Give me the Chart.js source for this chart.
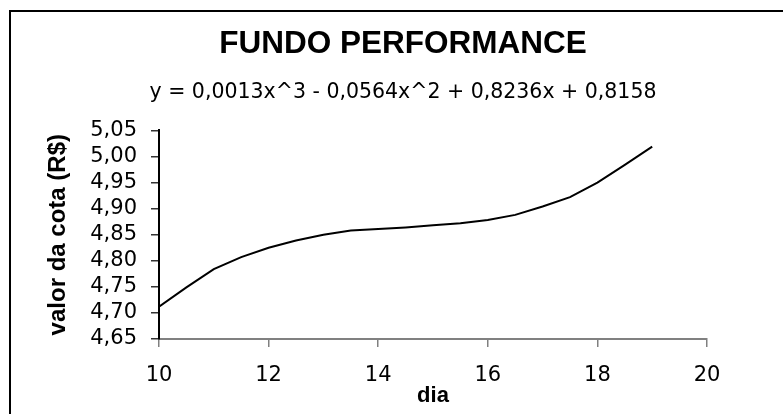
<!DOCTYPE html>
<html>
<head>
<meta charset="utf-8">
<script src="https://cdn.jsdelivr.net/npm/chart.js@4"></script>
<style>
  html, body { margin: 0; padding: 0; background: #fff; overflow: hidden; }
  #wrap { position: relative; width: 783px; height: 414px; overflow: hidden; }
  #frame { position: absolute; left: 9px; top: 10px; width: 800px; height: 420px; border: 2px solid #000; }
  #myChart { position: absolute; left: 0; top: 0; }
</style>
</head>
<body>
<div id="wrap">
  <div id="frame"></div>
  <canvas id="myChart" width="806" height="414"></canvas>
</div>
<script>
// dia (x) and valor da cota (y)
const dias = [10, 10.5, 11, 11.5, 12, 12.5, 13, 13.5, 14, 14.5, 15, 15.5, 16, 16.5, 17, 17.5, 18, 18.5, 19];
const cotas = [4.712, 4.749, 4.784, 4.807, 4.825, 4.839, 4.850, 4.858, 4.861, 4.864, 4.868, 4.872, 4.878, 4.888, 4.904, 4.922, 4.950, 4.984, 5.019];

const xTicks = [10, 12, 14, 16, 18, 20];
const yTicks = [4.65, 4.70, 4.75, 4.80, 4.85, 4.90, 4.95, 5.00, 5.05];

const titleText = 'FUNDO PERFORMANCE';
const equationText = 'y = 0,0013x^3 - 0,0564x^2 + 0,8236x + 0,8158';

const ctx = document.getElementById('myChart').getContext('2d');

const points = dias.map((d, i) => ({ x: d, y: cotas[i] }));

const myChart = new Chart(ctx, {
    type: 'line',
    data: {
        datasets: [{
            data: points,
            borderColor: '#000',
            borderWidth: 2,
            pointRadius: 0,
            tension: 0,
            fill: false,
            yAxisID: 'y'
        }]
    },
    options: {
        responsive: false,
        animation: false,
        layout: { padding: 0 },
        plugins: {
            legend: { display: false },
            tooltip: { enabled: false },
            title: {
                display: true,
                text: titleText,
                color: '#000',
                font: { family: '"Liberation Sans", Arial, sans-serif', size: 31.5, weight: 'bold', lineHeight: 1.2 },
                padding: { top: 25, bottom: 0 }
            },
            subtitle: {
                display: true,
                text: equationText,
                color: '#000',
                font: { family: '"DejaVu Sans", sans-serif', size: 20.5, lineHeight: 1.2 },
                padding: { top: 18, bottom: 25 }
            }
        },
        scales: {
            x: {
                type: 'linear',
                min: xTicks[0],
                max: xTicks[xTicks.length - 1],
                afterBuildTicks: (scale) => { scale.ticks = xTicks.map(v => ({ value: v })); },
                afterFit: (scale) => { scale.height = 75; },
                grid: { drawOnChartArea: false, drawTicks: true, tickLength: 8, color: '#808080', lineWidth: 1.5 },
                border: { color: '#808080', width: 2 },
                ticks: {
                    color: '#000',
                    padding: 16,
                    maxRotation: 0,
                    autoSkip: false,
                    font: { family: '"DejaVu Sans", sans-serif', size: 21 }
                },
                title: {
                    display: true,
                    text: 'dia',
                    color: '#000',
                    font: { family: '"Liberation Sans", Arial, sans-serif', size: 22, weight: 'bold', lineHeight: 1.2 },
                    padding: { top: 0, bottom: 5 }
                }
            },
            y: {
                min: yTicks[0],
                max: yTicks[yTicks.length - 1],
                afterBuildTicks: (scale) => { scale.ticks = yTicks.map(v => ({ value: v })); },
                afterFit: (scale) => { scale.width = 159; },
                grid: { drawOnChartArea: false, drawTicks: true, tickLength: 8, color: '#333', lineWidth: 1.5 },
                border: { color: '#000', width: 2 },
                ticks: {
                    color: '#000',
                    padding: 14,
                    autoSkip: false,
                    font: { family: '"DejaVu Sans", sans-serif', size: 21 },
                    callback: (v) => Number(v).toFixed(2).replace('.', ',')
                },
                title: {
                    display: true,
                    text: 'valor da cota (R$)',
                    color: '#000',
                    font: { family: '"Liberation Sans", Arial, sans-serif', size: 24, weight: 'bold', lineHeight: 1.2 },
                    padding: { top: 44, bottom: 0 }
                }
            },
            // empty right-hand space so the plot ends at x=20 while the titles stay centred on the frame
            spacer: {
                position: 'right',
                display: true,
                afterFit: (scale) => { scale.width = 99; },
                grid: { display: false },
                border: { display: false },
                ticks: { display: false }
            }
        }
    }
});
</script>
</body>
</html>
